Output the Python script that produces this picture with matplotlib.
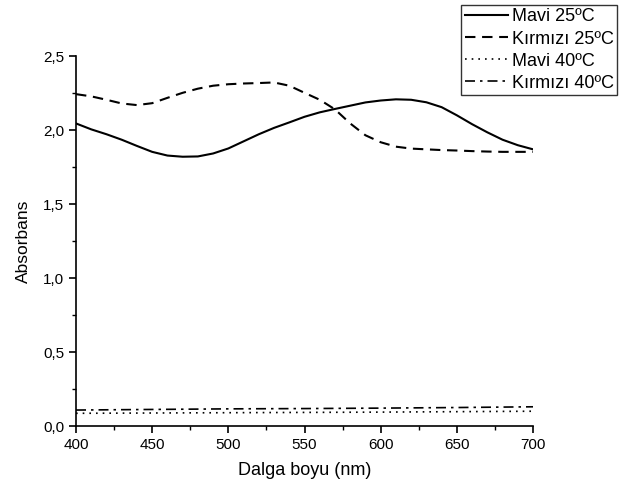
import matplotlib
matplotlib.use("Agg")
import matplotlib.pyplot as plt
from matplotlib.ticker import FuncFormatter, MultipleLocator

plt.rcParams['font.family'] = ['Liberation Sans', 'DejaVu Sans']

# wavelength grid (nm) for the 25 C curves
wl = [400, 410, 420, 430, 440, 450, 460, 470, 480, 490, 500, 510, 520, 530, 540,
      550, 560, 570, 580, 590, 600, 610, 620, 630, 640, 650, 660, 670, 680, 690, 700]

mavi_25 = [2.045, 2.005, 1.972, 1.935, 1.893, 1.853, 1.828, 1.820, 1.822, 1.842, 1.876,
           1.924, 1.972, 2.015, 2.052, 2.090, 2.120, 2.143, 2.165, 2.187, 2.200, 2.208,
           2.205, 2.188, 2.155, 2.100, 2.040, 1.985, 1.935, 1.898, 1.870]

kirmizi_25 = [2.243, 2.228, 2.205, 2.180, 2.169, 2.182, 2.218, 2.252, 2.280, 2.300, 2.310,
              2.315, 2.318, 2.322, 2.300, 2.252, 2.205, 2.140, 2.045, 1.965, 1.918, 1.888,
              1.875, 1.870, 1.865, 1.862, 1.858, 1.855, 1.853, 1.853, 1.853]

# 40 C curves are nearly flat
wl_40 = [400, 450, 500, 550, 600, 650, 700]
mavi_40 = [0.086, 0.088, 0.090, 0.092, 0.094, 0.097, 0.100]
kirmizi_40 = [0.108, 0.112, 0.116, 0.118, 0.121, 0.125, 0.130]

labels = ["Mavi 25ºC", "Kırmızı 25ºC", "Mavi 40ºC", "Kırmızı 40ºC"]

fig = plt.figure(figsize=(6.19, 4.88), dpi=100)
ax = fig.add_axes([0.1228, 0.127, 0.7383, 0.758])

ax.plot(wl, mavi_25, color='black', lw=1.5, ls='-', label=labels[0])
ax.plot(wl, kirmizi_25, color='black', lw=1.5, ls=(0, (5, 3.2)), label=labels[1])
ax.plot(wl_40, mavi_40, color='black', lw=1.2, ls=(0, (1, 3)), label=labels[2])
ax.plot(wl_40, kirmizi_40, color='black', lw=1.2, ls=(0, (6, 3, 1.5, 3)), label=labels[3])

ax.set_xlim(400, 700)
ax.set_ylim(0, 2.5)
ax.xaxis.set_major_locator(MultipleLocator(50))
ax.xaxis.set_minor_locator(MultipleLocator(25))
ax.yaxis.set_major_locator(MultipleLocator(0.5))
ax.yaxis.set_minor_locator(MultipleLocator(0.25))
ax.yaxis.set_major_formatter(FuncFormatter(lambda v, p: f"{v:.1f}".replace('.', ',')))

for side in ('top', 'right'):
    ax.spines[side].set_visible(False)
for side in ('left', 'bottom'):
    ax.spines[side].set_linewidth(1.2)
ax.tick_params(which='major', direction='out', length=5, width=1.2, labelsize=11)
ax.tick_params(which='minor', direction='out', length=3, width=1.0)

ax.set_xlabel("Dalga boyu (nm)", fontsize=13, labelpad=7)
ax.set_ylabel("Absorbans", fontsize=12.5, labelpad=9)

leg = ax.legend(loc='upper right', bbox_to_anchor=(0.997, 0.99), bbox_transform=fig.transFigure,
                fontsize=13, frameon=True, fancybox=False, borderaxespad=0,
                handlelength=2.4, handletextpad=0.2, labelspacing=0.28, borderpad=0.2)
leg.get_frame().set_edgecolor('black')
leg.get_frame().set_linewidth(1.0)

fig.savefig("out.png", dpi=100)
